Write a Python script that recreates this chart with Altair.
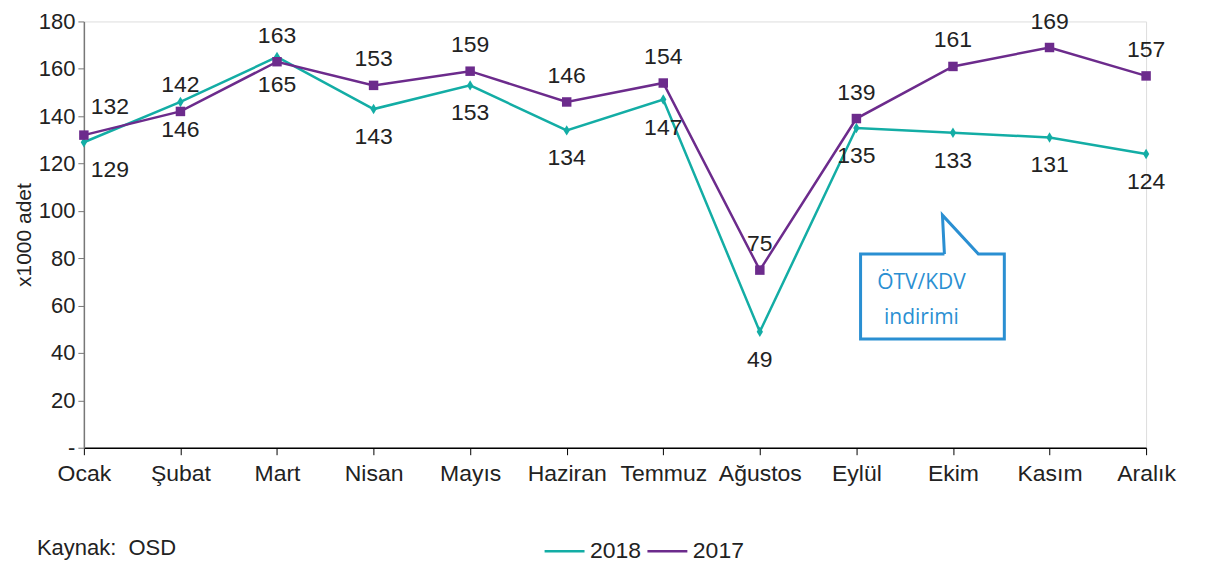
import altair as alt
import pandas as pd

months = ["Ocak", "Şubat", "Mart", "Nisan", "Mayıs", "Haziran", "Temmuz",
          "Ağustos", "Eylül", "Ekim", "Kasım", "Aralık"]
v2018 = [129, 146, 165, 143, 153, 134, 147, 49, 135, 133, 131, 124]
v2017 = [132, 142, 163, 153, 159, 146, 154, 75, 139, 161, 169, 157]
y_ticks = [0, 20, 40, 60, 80, 100, 120, 140, 160, 180]
years = ["2018", "2017"]
colors = ["#13ADA5", "#6C2B8C"]
callout_lines = ["ÖTV/KDV", "indirimi"]
source_text = "Kaynak:\u00a0 OSD"

rows = []
for m, a, b in zip(months, v2018, v2017):
    rows.append({"month": m, "year": "2018", "value": a})
    rows.append({"month": m, "year": "2017", "value": b})
df = pd.DataFrame(rows)

FONT = "Liberation Sans"
TXT = "#222222"
BLUE = "#2A8FD2"
TOP = 13
H = 448 - 8 - TOP

x_enc = alt.X("month:N", sort=months, scale=alt.Scale(type="point", padding=0),
              axis=alt.Axis(title=None, labelAngle=0, labelFontSize=23, labelColor=TXT,
                            labelFont=FONT, tickSize=7, tickColor="#000", domainColor="#000",
                            domainWidth=1.5, labelPadding=8, grid=False))
y_enc = alt.Y("value:Q", scale=alt.Scale(domain=[0, 180], nice=False),
              axis=alt.Axis(values=y_ticks, labelExpr="datum.value == 0 ? '-' : datum.label",
                            tickSize=6, tickColor="#777", domainColor="#777", domainWidth=1.5,
                            labelPadding=3, labelFontSize=22, labelColor=TXT, labelFont=FONT,
                            title="x1000 adet", titleFontSize=21, titleFontWeight="normal",
                            titleColor=TXT, titleFont=FONT, titlePadding=4, grid=False))

base = alt.Chart(df)

lines = base.mark_line(strokeWidth=2.5).encode(
    x=x_enc, y=y_enc,
    color=alt.Color("year:N", scale=alt.Scale(domain=years, range=colors), sort=years,
                    legend=alt.Legend(orient="none", legendX=460, legendY=509,
                                      direction="horizontal", title=None,
                                      symbolType="stroke", symbolSize=1600,
                                      symbolStrokeWidth=2.5, labelFontSize=23,
                                      labelFont=FONT, labelColor=TXT,
                                      columnPadding=0, labelOffset=4)),
)

DIAMOND = "M0,-1L0.6,0L0,1L-0.6,0Z"
pts17 = base.transform_filter("datum.year == '2017'").mark_point(
    shape="square", filled=True, size=90, color=colors[1], opacity=1).encode(x=x_enc, y=y_enc)
pts18 = base.transform_filter("datum.year == '2018'").mark_point(
    shape=DIAMOND, filled=True, size=110, color=colors[0], opacity=1).encode(x=x_enc, y=y_enc)

def labels(year, dy, first):
    cond = "datum.month == 'Ocak'" if first else "datum.month != 'Ocak'"
    return base.transform_filter(f"datum.year == '{year}'").transform_filter(cond).mark_text(
        fontSize=23, font=FONT, color=TXT, dy=dy, dx=26 if first else 0, baseline="middle"
    ).encode(x=x_enc, y=y_enc, text="value:Q")

texts = [labels("2017", -26, False), labels("2017", -28, True),
         labels("2018", 28, False), labels("2018", 28, True)]

# callout outline (pixel coordinates relative to plot origin; page y minus 8 minus TOP)
oy = 8 + TOP
outline = pd.DataFrame({
    "px": [862, 860, 896, 922, 922, 778, 778, 862],
    "py": [254 - oy, 215 - oy, 254 - oy, 254 - oy, 339 - oy, 339 - oy, 254 - oy, 254 - oy],
    "o": list(range(8)),
})
callout = alt.Chart(outline).mark_line(color=BLUE, strokeWidth=3, strokeJoin="miter").encode(
    x=alt.X("px:Q", scale=None), y=alt.Y("py:Q", scale=None), order="o:Q")
callout_text = alt.Chart(pd.DataFrame({"t": callout_lines, "py": [283 - oy, 318 - oy]})).mark_text(
    font="Open Sans", fontSize=21, color=BLUE, baseline="middle", align="center"
).encode(x=alt.value(839), y=alt.Y("py:Q", scale=None), text="t:N")

source = alt.Chart(pd.DataFrame({"t": [source_text]})).mark_text(
    font=FONT, fontSize=22, color=TXT, align="left", baseline="middle"
).encode(x=alt.value(-47), y=alt.value(548 - oy), text="t:N")

chart = alt.layer(lines, pts18, pts17, *texts, callout, callout_text, source).properties(
    width=1064, height=H,
    autosize=alt.AutoSizeParams(type="none"),
    padding={"left": 76, "top": TOP, "right": 55, "bottom": 117},
).configure_view(stroke=None).configure(font=FONT)

chart.save("out.html", embed_options={"renderer": "svg", "actions": False})
